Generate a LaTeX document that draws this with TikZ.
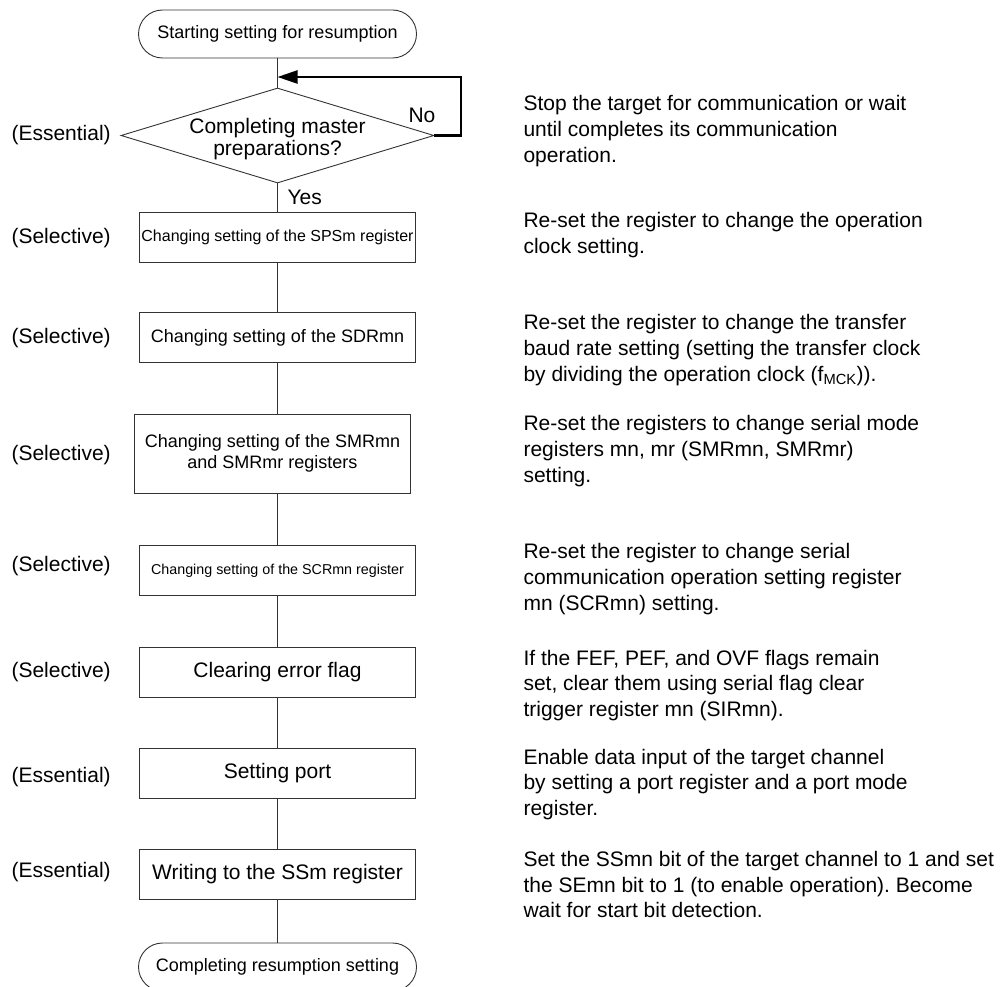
\documentclass[tikz,border=0pt]{standalone}
\usepackage{fontspec}
\setmainfont{Liberation Sans}
\usetikzlibrary{arrows.meta,shapes.geometric}
\frenchspacing
\begin{document}
\begin{tikzpicture}[x=1pt,y=-1pt,
  conn/.style={draw=black!80, line width=0.9pt},
  loopline/.style={draw=black, line width=2.4pt, -{Triangle[length=20pt,width=13pt]}},
  box/.style={draw=black!80, line width=0.9pt, rectangle, inner sep=0pt, minimum width=276, minimum height=50, align=center},
  term/.style={draw=black!80, line width=0.9pt, rectangle, rounded corners=24pt, inner sep=0pt, minimum width=278, minimum height=48},
  side/.style={anchor=west, font=\fontsize{21}{25.7}\selectfont},
  desc/.style={anchor=west, align=left, font=\fontsize{21}{25.7}\selectfont},
  big/.style={font=\fontsize{21}{24}\selectfont}]
\useasboundingbox (0,0) rectangle (1001,987);
\clip (0,0) rectangle (1001,987);
\fill[white] (0,0) rectangle (1001,987);

% flow nodes
\node[term, font=\fontsize{18}{20}\selectfont] (start) at (277.5,34) {Starting setting for resumption};
\node[diamond, draw=black!80, line width=0.9pt, inner sep=0pt, minimum width=313, minimum height=95] (dia) at (277.5,135.5) {};
\node[align=center, font=\fontsize{21}{21.5}\selectfont] (diatext) at (277.5,139) {Completing master\\preparations?};
\node[box, font=\fontsize{16}{18}\selectfont] (b1) at (277.5,237) {Changing setting of the SPSm register};
\node[box, font=\fontsize{18}{20}\selectfont] (b2) at (277.5,337.5) {Changing setting of the SDRmn};
\node[box, minimum height=79, font=\fontsize{18}{21}\selectfont] (b3) at (272.5,453.5) {Changing setting of the SMRmn\\and SMRmr registers};
\node[box, font=\fontsize{14.3}{17}\selectfont] (b4) at (277.5,570.5) {Changing setting of the SCRmn register};
\node[box, big] (b5) at (277.5,672.5) {Clearing error flag};
\node[box, big] (b6) at (277.5,773.5) {Setting port};
\node[box, big] (b7) at (277.5,874.5) {Writing to the SSm register};
\node[term, font=\fontsize{18}{20}\selectfont] (end) at (277.5,967) {Completing resumption setting};

% connectors
\coordinate (loopin) at (277.5,77);
\coordinate (loopc) at (461,77);
\draw[conn] (start) -- (dia);
\draw[loopline] (dia.east) -| (loopc) -- (loopin);
\draw[conn] (dia) -- (b1);
\draw[conn] (b1) -- (b2);
\draw[conn] (b2) -- (b2 |- b3.north);
\draw[conn] (b4 |- b3.south) -- (b4);
\draw[conn] (b4) -- (b5);
\draw[conn] (b5) -- (b6);
\draw[conn] (b6) -- (b7);
\draw[conn] (b7) -- (end);

\node[anchor=west, big] (no) at (405,115) {No};
\node[anchor=west, big] (yes) at (284,197) {Yes};

% side labels
\node[side] (s0) at (8,135.5) {(Essential)};
\node[side] (s1) at (8,238) {(Selective)};
\node[side] (s2) at (8,338) {(Selective)};
\node[side] (s3) at (8,455) {(Selective)};
\node[side] (s4) at (8,566) {(Selective)};
\node[side] (s5) at (8,672) {(Selective)};
\node[side] (s6) at (8,777) {(Essential)};
\node[side] (s7) at (8,872) {(Essential)};

% descriptions
\node[desc] (d0) at (520,131) {Stop the target for communication or wait\\until completes its communication\\operation.};
\node[desc] (d1) at (520,235) {Re-set the register to change the operation\\clock setting.};
\node[desc] (d2) at (520,350) {Re-set the register to change the transfer\\baud rate setting (setting the transfer clock\\by dividing the operation clock (f\textsubscript{MCK})).};
\node[desc] (d3) at (520,451) {Re-set the registers to change serial mode\\registers mn, mr (SMRmn, SMRmr)\\setting.};
\node[desc] (d4) at (520,579) {Re-set the register to change serial\\communication operation setting register\\mn (SCRmn) setting.};
\node[desc] (d5) at (520,685.5) {If the FEF, PEF, and OVF flags remain\\set, clear them using serial flag clear\\trigger register mn (SIRmn).};
\node[desc] (d6) at (520,784.5) {Enable data input of the target channel\\by setting a port register and a port mode\\register.};
\node[desc] (d7) at (520,884.5) {Set the SSmn bit of the target channel to 1 and set\\the SEmn bit to 1 (to enable operation). Become\\wait for start bit detection.};
\end{tikzpicture}
\end{document}
